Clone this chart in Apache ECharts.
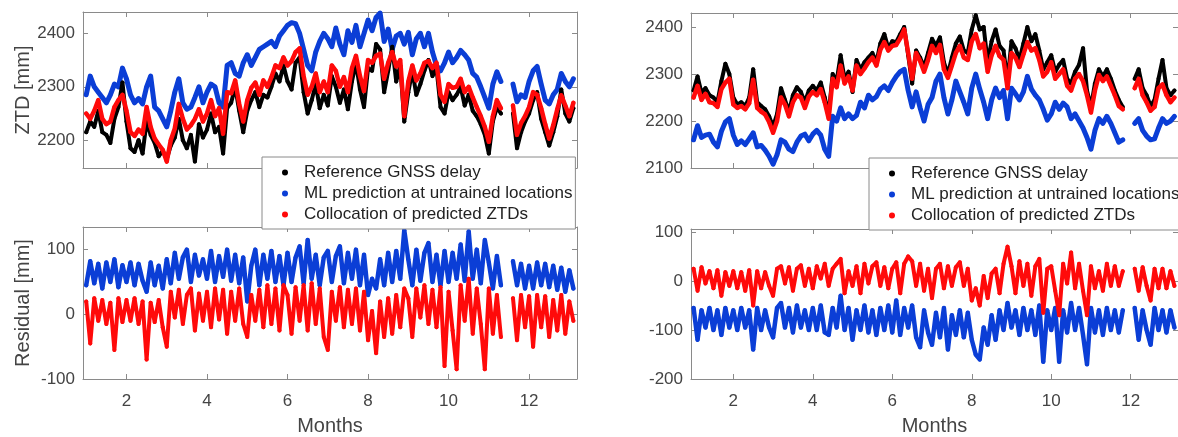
<!DOCTYPE html>
<html>
<head>
<meta charset="utf-8">
<script src="https://cdn.jsdelivr.net/npm/echarts@6/dist/echarts.min.js"></script>
<style>
  html, body { margin: 0; padding: 0; background: #fff; }
  #chart { width: 1178px; height: 437px; }
</style>
</head>
<body>
<div id="chart"></div>
<script>
// sampled every 0.1 month from 1.0 to 13.1, null = no data
var leftRef = [
  2215, 2235, 2225, 2255, 2215, 2210, 2195, 2240, 2262, 2308,
  2235, 2185, 2178, 2200, 2175, 2235, 2210, 2195, 2170, 2180,
  2165, 2190, 2205, 2240, 2200, 2185, 2210, 2160, 2230, 2205,
  2220, 2250, 2215, 2225, 2175, 2260, 2270, 2300, 2255, 2215,
  2255, 2275, 2290, 2262, 2285, 2280, 2300, 2325, 2310, 2340,
  2310, 2295, 2345, 2355, 2290, 2250, 2275, 2305, 2260, 2285,
  2265, 2320, 2300, 2270, 2295, 2258, 2310, 2345, 2295, 2262,
  2335, 2330, 2380, 2370, 2290, 2330, 2375, 2310, 2340, 2235,
  2290, 2330, 2285, 2305, 2330, 2350, 2320, 2335, 2262, 2250,
  2290, 2275, 2285, 2300, 2265, 2285, 2255, 2245, 2230, 2210,
  2175, 2235, 2262, 2250, null, null, 2250, 2185, 2215, 2235,
  2250, 2275, 2290, 2240, 2215, 2190, 2215, 2245, 2295, 2250,
  2235, 2260
];
var leftMl = [
  2285, 2320, 2300, 2290, 2280, 2270, 2285, 2305, 2300, 2335,
  2315, 2285, 2270, 2278, 2268, 2300, 2320, 2262, 2255, 2240,
  2225, 2255, 2290, 2315, 2270, 2258, 2262, 2280, 2300, 2270,
  2290, 2305, 2300, 2270, 2262, 2340, 2345, 2325, 2320, 2345,
  2360, 2340, 2355, 2370, 2375, 2380, 2385, 2375, 2395, 2405,
  2415, 2420, 2418, 2400, 2370, 2340, 2330, 2365, 2385, 2400,
  2390, 2375, 2410, 2380, 2360, 2405, 2383, 2415, 2375, 2400,
  2425, 2405, 2430, 2438, 2385, 2408, 2370, 2395, 2400, 2380,
  2402, 2360, 2390, 2400, 2375, 2400, 2365, 2340, 2330, 2345,
  2365, 2345, 2355, 2368, 2360, 2350, 2325, 2318, 2300, 2280,
  2260, 2305, 2328, 2310, null, null, 2305, 2272, 2285, 2280,
  2310, 2330, 2338, 2305, 2275, 2268, 2285, 2295, 2325, 2310,
  2300, 2315
];
var leftCol = [
  2250, 2240, 2255, 2275, 2240, 2230, 2235, 2262, 2275, 2285,
  2255, 2215, 2208, 2220, 2212, 2262, 2225, 2203, 2192, 2182,
  2160, 2200, 2222, 2268, 2240, 2220, 2228, 2240, 2258, 2235,
  2250, 2275, 2245, 2260, 2212, 2290, 2288, 2312, 2268, 2235,
  2275, 2298, 2308, 2285, 2312, 2300, 2318, 2340, 2335, 2355,
  2340, 2348, 2365, 2372, 2320, 2285, 2300, 2325, 2290, 2310,
  2290, 2340, 2330, 2300, 2318, 2290, 2335, 2358, 2320, 2292,
  2350, 2345, 2358, 2362, 2315, 2345, 2365, 2338, 2350, 2245,
  2310, 2340, 2312, 2325, 2345, 2348, 2335, 2345, 2285, 2272,
  2305, 2298, 2300, 2315, 2290, 2300, 2280, 2262, 2245, 2225,
  2197, 2245, 2275, 2260, null, null, 2265, 2210, 2232, 2245,
  2262, 2290, 2285, 2260, 2230, 2203, 2228, 2258, 2284, 2265,
  2245, 2270
];
var leftResMl = [
  45, 82, 48, 78, 40, 80, 50, 85, 42, 76,
  50, 80, 45, 78, 52, 35, 80, 45, 75, 40,
  85, 48, 95, 55, 88, 100, 50, 92, 60, 85,
  55, 98, 50, 90, 58, 100, 52, 92, 48, 88,
  20, 75, 100, 45, 92, 55, 98, 50, 90, 45,
  95, 50, 88, 105, 48, 115, 55, 92, 45, 88,
  98, 50, 90, 105, 48, 95, 55, 100, 45, 92,
  30, 55, 40, 85, 45, 95, 50, 98, 55, 130,
  85, 45, 100, 52, 95, 110, 50, 92, 45, 98,
  50, 95, 55, 108, 52, 128, 55, 100, 48, 115,
  80, 40, 90, 45, null, null, 82, 45, 78, 40,
  75, 40, 80, 45, 78, 42, 75, 38, 72, 35,
  68, 40
];
var leftResCol = [
  20, -45, 25, -10, 22, -15, 18, -55, 25, -12,
  22, -10, 25, -15, 20, -70, 18, -12, 22, -20,
  -50, 35, -5, 38, -15, 30, 40, -25, 32, -10,
  35, -20, 40, -8, 38, -30, 35, -10, 40, -15,
  -35, 30, -10, 38, -20, 45, -15, 40, -25, 45,
  30, -30, 42, -10, 45, -25, 48, -15, 40, -35,
  -55, 35, -10, 42, -20, 38, -15, 40, -25, 35,
  -40, 5, -60, 20, -35, 25, -30, 30, -20, 40,
  25, -35, 40, -5, 45, -15, 38, -20, 42, -80,
  35, -25, -85, 45, -10, 55, -30, 40, -15, -85,
  40, -30, 30, -35, null, null, 25, -40, 30, -20,
  28, -50, 30, -20, 28, -35, 22, -25, 30, -30,
  20, -10
];
var rightRef = [
  2265, 2295, 2260, 2270, 2255, 2250, 2240, 2285, 2322, 2300,
  2250, 2235, 2240, 2232, 2250, 2310, 2240, 2232, 2225, 2210,
  2188, 2215, 2270, 2245, 2220, 2255, 2272, 2262, 2240, 2265,
  2275, 2265, 2282, 2250, 2215, 2300, 2285, 2340, 2290, 2305,
  2262, 2330, 2310, 2325, 2335, 2345, 2325, 2365, 2385, 2355,
  2370, 2368, 2385, 2400, 2340, 2280, 2350, 2335, 2315, 2345,
  2375, 2360, 2378, 2325, 2300, 2335, 2365, 2380, 2350, 2345,
  2395, 2425, 2395, 2400, 2325, 2370, 2395, 2360, 2350, 2285,
  2370, 2355, 2330, 2365, 2400, 2370, 2385, 2350, 2310, 2325,
  2340, 2305, 2320, 2330, 2290, 2280, 2305, 2320, 2355, 2265,
  2230, 2280, 2310, 2295, 2310, 2290, 2265, 2245, 2230, null,
  null, 2290, 2310, 2270, 2255, 2232, 2245, 2290, 2330, 2270,
  2255, 2265
];
var rightMl = [
  2160, 2190, 2165, 2170, 2172, 2155, 2145, 2178, 2198, 2205,
  2170, 2150, 2158, 2150, 2162, 2175, 2145, 2148, 2138, 2125,
  2108, 2128, 2160, 2155, 2140, 2135, 2155, 2168, 2172, 2158,
  2172, 2180, 2170, 2140, 2125, 2210, 2200, 2228, 2205, 2215,
  2205, 2212, 2240, 2228, 2255, 2245, 2252, 2268, 2275, 2265,
  2282, 2295, 2305, 2310, 2265, 2230, 2262, 2228, 2200, 2235,
  2250, 2285, 2300, 2250, 2215, 2245, 2285, 2262, 2240, 2215,
  2270, 2300, 2268, 2240, 2205, 2245, 2270, 2250, 2265, 2205,
  2270, 2258, 2245, 2262, 2295, 2268, 2255, 2245, 2225, 2202,
  2215, 2240, 2225, 2238, 2230, 2205, 2215, 2200, 2185, 2165,
  2140, 2180, 2205, 2195, 2210, 2195, 2175, 2155, 2160, null,
  null, 2195, 2205, 2180, 2168, 2160, 2162, 2185, 2205, 2195,
  2200, 2210
];
var rightCol = [
  2250, 2275, 2245, 2258, 2240, 2238, 2230, 2268, 2282, 2290,
  2235, 2228, 2232, 2225, 2238, 2288, 2228, 2220, 2214, 2198,
  2175, 2200, 2250, 2235, 2210, 2240, 2255, 2250, 2228, 2252,
  2262, 2255, 2268, 2240, 2205, 2290, 2272, 2318, 2280, 2295,
  2265, 2318, 2300, 2312, 2325, 2335, 2318, 2352, 2368, 2350,
  2360, 2362, 2376, 2395, 2345, 2290, 2345, 2328, 2305, 2330,
  2360, 2345, 2362, 2310, 2292, 2318, 2345, 2360, 2335, 2330,
  2370, 2385, 2355, 2365, 2305, 2340, 2360, 2338, 2330, 2270,
  2345, 2335, 2315, 2342, 2368, 2350, 2355, 2330, 2295, 2305,
  2325, 2290, 2300, 2310, 2275, 2265, 2290, 2300, 2285, 2255,
  2218, 2265, 2298, 2285, 2295, 2275, 2255, 2232, 2225, null,
  null, 2270, 2290, 2255, 2240, 2222, 2230, 2270, 2278, 2255,
  2240, 2250
];
var rightResMl = [
  -55, -120, -60, -95, -55, -100, -60, -110, -55, -95,
  -60, -100, -55, -95, -60, -140, -55, -100, -60, -95,
  -115, -55, -45, -95, -55, -105, -50, -95, -60, -100,
  -55, -100, -50, -105, -110, -55, -95, -30, -100, -55,
  -120, -60, -100, -50, -105, -60, -110, -55, -100, -50,
  -105, -40, -110, -55, -95, -50, -115, -135, -60, -105,
  -130, -65, -115, -55, -140, -70, -110, -60, -115, -65,
  -120, -150, -160, -95, -130, -70, -120, -60, -100, -45,
  -95, -60, -110, -55, -100, -60, -110, -50, -165, -60,
  -100, -55, -165, -60, -105, -45, -100, -55, -110, -170,
  -55, -105, -60, -110, -55, -100, -60, -105, -60, null,
  null, -55, -120, -60, -100, -130, -55, -100, -60, -105,
  -60, -95
];
var rightResCol = [
  25, -20, 28, -5, 20, -15, 22, -30, 18, -10,
  20, -15, 18, -20, 22, -50, 20, -15, 18, -10,
  -30, 25, 30, -5, 28, -20, 25, 32, -10, 25,
  -15, 30, 5, 35, -10, 25, 35, 45, -25, 20,
  -10, 30, -25, 35, -5, 30, 38, -10, 28, -15,
  25, 38, -25, 35, 50, 40, -10, 35, -20, 25,
  -35, 25, 35, -15, 30, -10, 28, 38, -10, 25,
  -40, -15, -50, 10, -35, 15, 25, -25, 35, 70,
  30, -25, 40, -10, 35, -30, 30, 45, -65, 25,
  30, -20, -70, 35, -5, 58, -15, 35, -20, -70,
  30, -15, 20, -20, 35, -10, 30, -10, 20, null,
  null, 25, -20, 28, -10, -40, 25, -15, 25, -15,
  20, -10
];

var NAME_REF = 'Reference GNSS delay';
var NAME_ML = 'ML prediction at untrained locations';
var NAME_COL = 'Collocation of predicted ZTDs';
var BLACK = '#000000', BLUE = '#0b3ed6', RED = '#ff0a0a';
var FONT = 'Liberation Sans, Arial, sans-serif';
var AXIS_GRAY = '#8a8a8a';
var TEXT_GRAY = '#444444';

var months = leftRef.map(function (v, i) { return +(1 + 0.1 * i).toFixed(1); });
function pairs(vals) {
  return vals.map(function (v, i) { return [months[i], v]; });
}

var chart = echarts.init(document.getElementById('chart'));

var grids = [
  { left: 83, top: 12, width: 494, height: 156 },
  { left: 83, top: 227, width: 494, height: 156 },
  { left: 691, top: 13, width: 493, height: 155 },
  { left: 691, top: 229, width: 493, height: 155 }
];
var xMin = [0.92, 0.92, 0.935, 0.935];
var yCfg = [
  { min: 2148, max: 2440, splitNumber: 3, name: 'ZTD [mm]', showMin: false },
  { min: -100, max: 135, interval: 100, name: 'Residual [mm]', showMin: true },
  { min: 2100, max: 2430, interval: 100, name: '', showMin: true },
  { min: -200, max: 106, interval: 100, name: '', showMin: true }
];

var xAxes = [], yAxes = [];
function tickStyle() {
  return { show: true, inside: true, length: 5, lineStyle: { color: AXIS_GRAY } };
}
for (var g = 0; g < 4; g++) {
  var bottomPanel = (g % 2 === 1);
  xAxes.push({
    type: 'value', gridIndex: g, min: xMin[g], max: 13.19, splitNumber: 6,
    position: 'bottom',
    axisLine: { show: true, onZero: false, lineStyle: { color: AXIS_GRAY } },
    axisTick: tickStyle(),
    splitLine: { show: false },
    axisLabel: {
      show: bottomPanel, showMinLabel: false, showMaxLabel: false,
      color: TEXT_GRAY, fontSize: 17, fontFamily: FONT, margin: 14
    },
    name: bottomPanel ? 'Months' : '',
    nameLocation: 'middle', nameGap: 37,
    nameTextStyle: { color: TEXT_GRAY, fontSize: 20, fontFamily: FONT }
  });
  var yc = yCfg[g];
  var ya = {
    type: 'value', gridIndex: g, min: yc.min, max: yc.max,
    position: 'left',
    axisLine: { show: true, onZero: false, lineStyle: { color: AXIS_GRAY } },
    axisTick: tickStyle(),
    splitLine: { show: false },
    axisLabel: {
      showMinLabel: yc.showMin, showMaxLabel: false,
      formatter: function (v) { return String(v); },
      color: TEXT_GRAY, fontSize: 17, fontFamily: FONT, margin: 8
    },
    name: yc.name, nameLocation: 'middle', nameGap: 50,
    nameTextStyle: { color: TEXT_GRAY, fontSize: 20, fontFamily: FONT }
  };
  if (yc.interval) ya.interval = yc.interval; else ya.splitNumber = yc.splitNumber;
  yAxes.push(ya);
}
// mirrored box axes (top / right), ticks only
for (var h = 0; h < 4; h++) {
  var mx = echarts.util.clone(xAxes[h]);
  mx.position = 'top'; mx.axisLabel = { show: false }; mx.name = '';
  xAxes.push(mx);
  var my = echarts.util.clone(yAxes[h]);
  my.position = 'right'; my.axisLabel = { show: false }; my.name = '';
  yAxes.push(my);
}

function dots(name, color, vals, gi, z, w) {
  return {
    name: name, type: 'line', xAxisIndex: gi, yAxisIndex: gi,
    data: pairs(vals), connectNulls: false,
    symbol: 'circle', symbolSize: 4, showSymbol: true,
    lineStyle: { color: color, width: w, join: 'round', cap: 'round' },
    itemStyle: { color: color },
    z: z, silent: true, animation: false
  };
}

var series = [
  dots(NAME_ML, BLUE, leftMl, 0, 2, 5),
  dots(NAME_REF, BLACK, leftRef, 0, 3, 4),
  dots(NAME_COL, RED, leftCol, 0, 4, 4.5),
  dots(NAME_ML, BLUE, leftResMl, 1, 2, 4.5),
  dots(NAME_COL, RED, leftResCol, 1, 4, 4),
  dots(NAME_ML, BLUE, rightMl, 2, 2, 5),
  dots(NAME_REF, BLACK, rightRef, 2, 3, 4),
  dots(NAME_COL, RED, rightCol, 2, 4, 4.5),
  dots(NAME_ML, BLUE, rightResMl, 3, 2, 4.5),
  dots(NAME_COL, RED, rightResCol, 3, 4, 4)
];

function legendAt(left, top) {
  return {
    orient: 'vertical', left: left, top: top,
    data: [NAME_REF, NAME_ML, NAME_COL],
    icon: 'circle', itemWidth: 6, itemHeight: 6, itemGap: 4,
    padding: [7, 3, 6, 20],
    backgroundColor: '#ffffff', borderColor: '#8a8a8a', borderWidth: 1,
    selectedMode: false, z: 20,
    textStyle: { color: '#222', fontSize: 17, fontFamily: FONT, padding: [0, 0, 0, 11] }
  };
}

chart.setOption({
  animation: false,
  backgroundColor: '#ffffff',
  grid: grids,
  xAxis: xAxes,
  yAxis: yAxes,
  legend: [legendAt(262, 157), legendAt(869, 158)],
  series: series
});
</script>
</body>
</html>
